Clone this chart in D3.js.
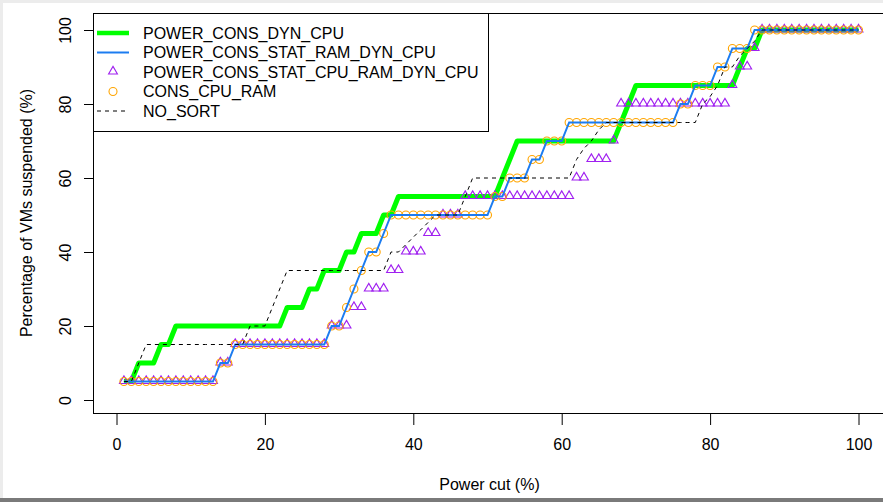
<!DOCTYPE html>
<html>
<head>
<meta charset="utf-8">
<script src="https://cdn.jsdelivr.net/npm/d3@7"></script>
<style>
  body { margin: 0; background: #fff; }
  svg { display: block; font-family: "Liberation Sans", Arial, Helvetica, sans-serif; }
</style>
</head>
<body>
<div id="chart"></div>
<script>
  // power cut (%) on the x axis, one point per percent
  var powerCut = d3.range(1, 101);

  var xTicks = [0, 20, 40, 60, 80, 100];
  var yTicks = [0, 20, 40, 60, 80, 100];

  // percentage of VMs suspended, one array per sorting policy
  var powerConsDynCpu = [
    5, 5, 10, 10, 10, 15, 15, 20, 20, 20,
    20, 20, 20, 20, 20, 20, 20, 20, 20, 20,
    20, 20, 25, 25, 25, 30, 30, 35, 35, 35,
    40, 40, 45, 45, 45, 50, 50, 55, 55, 55,
    55, 55, 55, 55, 55, 55, 55, 55, 55, 55,
    55, 60, 65, 70, 70, 70, 70, 70, 70, 70,
    70, 70, 70, 70, 70, 70, 70, 75, 80, 85,
    85, 85, 85, 85, 85, 85, 85, 85, 85, 85,
    85, 85, 85, 90, 95, 95, 100, 100, 100, 100,
    100, 100, 100, 100, 100, 100, 100, 100, 100, 100
  ];

  var powerConsStatRamDynCpu = [
    5, 5, 5, 5, 5, 5, 5, 5, 5, 5,
    5, 5, 5, 10, 10, 15, 15, 15, 15, 15,
    15, 15, 15, 15, 15, 15, 15, 15, 20, 20,
    25, 30, 35, 40, 40, 45, 50, 50, 50, 50,
    50, 50, 50, 50, 50, 50, 50, 50, 50, 50,
    55, 55, 60, 60, 60, 65, 65, 70, 70, 70,
    75, 75, 75, 75, 75, 75, 75, 75, 75, 75,
    75, 75, 75, 75, 75, 80, 80, 85, 85, 85,
    90, 90, 95, 95, 95, 100, 100, 100, 100, 100,
    100, 100, 100, 100, 100, 100, 100, 100, 100, 100
  ];

  var powerConsStatCpuRamDynCpu = [
    5, 5, 5, 5, 5, 5, 5, 5, 5, 5,
    5, 5, 5, 10, 10, 15, 15, 15, 15, 15,
    15, 15, 15, 15, 15, 15, 15, 15, 20, 20,
    20, 25, 25, 30, 30, 30, 35, 35, 40, 40,
    40, 45, 45, 50, 50, 50, 55, 55, 55, 55,
    55, 55, 55, 55, 55, 55, 55, 55, 55, 55,
    55, 60, 60, 65, 65, 65, 70, 80, 80, 80,
    80, 80, 80, 80, 80, 80, 80, 80, 80, 80,
    80, 80, 85, 90, 90, 95, 100, 100, 100, 100,
    100, 100, 100, 100, 100, 100, 100, 100, 100, 100
  ];

  var consCpuRam = [
    5, 5, 5, 5, 5, 5, 5, 5, 5, 5,
    5, 5, 5, 10, 10, 15, 15, 15, 15, 15,
    15, 15, 15, 15, 15, 15, 15, 15, 20, 20,
    25, 30, 35, 40, 40, 45, 50, 50, 50, 50,
    50, 50, 50, 50, 50, 50, 50, 50, 50, 50,
    55, 55, 60, 60, 60, 65, 65, 70, 70, 70,
    75, 75, 75, 75, 75, 75, 75, 75, 75, 75,
    75, 75, 75, 75, 75, 80, 80, 85, 85, 85,
    90, 90, 95, 95, 95, 100, 100, 100, 100, 100,
    100, 100, 100, 100, 100, 100, 100, 100, 100, 100
  ];

  var noSort = [
    5, 5, 10, 15, 15, 15, 15, 15, 15, 15,
    15, 15, 15, 15, 15, 15, 15, 20, 20, 20,
    25, 30, 35, 35, 35, 35, 35, 35, 35, 35,
    35, 35, 35, 35, 35, 35, 40, 40, 42, 44,
    46, 48, 50, 50, 50, 50, 55, 60, 60, 60,
    60, 60, 60, 60, 60, 60, 60, 60, 60, 60,
    60, 65, 68, 70, 73, 75, 75, 75, 75, 75,
    75, 75, 75, 75, 75, 75, 75, 75, 80, 82,
    85, 90, 90, 93, 95, 97, 100, 100, 100, 100,
    100, 100, 100, 100, 100, 100, 100, 100, 100, 100
  ];

  var legendLabels = ["POWER_CONS_DYN_CPU", "POWER_CONS_STAT_RAM_DYN_CPU",
    "POWER_CONS_STAT_CPU_RAM_DYN_CPU", "CONS_CPU_RAM", "NO_SORT"];

  var width = 883, height = 502;
  var box = {left: 93, top: 13, bottom: 413, right: 890};

  var svg = d3.select("#chart").append("svg")
    .attr("width", width)
    .attr("height", height);

  // window frame round the R device
  svg.append("rect").attr("x", 0).attr("y", 0).attr("width", width).attr("height", height).attr("fill", "#fff");
  svg.append("rect").attr("x", 0).attr("y", 0).attr("width", width).attr("height", 3).attr("fill", "#ececec");
  svg.append("rect").attr("x", 0).attr("y", 0).attr("width", 3).attr("height", height).attr("fill", "#ececec");
  svg.append("rect").attr("x", 0).attr("y", 498).attr("width", width).attr("height", 4).attr("fill", "#7a7a7a");

  var x = d3.scaleLinear().domain([0, 100]).range([116.5, 858.5]);
  var y = d3.scaleLinear().domain([0, 100]).range([400, 30]);

  // axes
  var xAxis = svg.append("g")
    .attr("transform", "translate(0," + box.bottom + ")")
    .call(d3.axisBottom(x).tickValues(xTicks).tickSizeInner(12).tickSizeOuter(0).tickPadding(14));
  xAxis.select(".domain").remove();
  xAxis.selectAll("line").attr("stroke", "#000");
  xAxis.selectAll("text").attr("font-size", 16).attr("font-family", null).attr("fill", "#000");

  var yAxis = svg.append("g")
    .attr("transform", "translate(" + box.left + ",0)")
    .call(d3.axisLeft(y).tickValues(yTicks).tickSizeInner(9).tickSizeOuter(0));
  yAxis.select(".domain").remove();
  yAxis.selectAll("line").attr("stroke", "#000");
  yAxis.selectAll("text")
    .attr("font-size", 16).attr("font-family", null).attr("fill", "#000")
    .attr("x", null).attr("dy", null)
    .attr("text-anchor", "middle")
    .attr("transform", "translate(-22,0) rotate(-90)");

  // axis titles
  svg.append("text")
    .attr("x", (box.left + box.right) / 2 - 2)
    .attr("y", 490)
    .attr("text-anchor", "middle")
    .attr("font-size", 16)
    .text("Power cut (%)");

  svg.append("text")
    .attr("transform", "translate(32," + (box.top + box.bottom) / 2 + ") rotate(-90)")
    .attr("text-anchor", "middle")
    .attr("font-size", 16)
    .text("Percentage of VMs suspended (%)");

  var plot = svg.append("g");

  var line = function(values) {
    return d3.line()
      .x(function(d, i) { return x(powerCut[i]); })
      .y(function(d) { return y(d); })(values);
  };

  plot.append("path")
    .attr("d", line(powerConsDynCpu))
    .attr("fill", "none").attr("stroke", "#00ff00").attr("stroke-width", 5)
    .attr("stroke-linejoin", "round");

  var triangle = d3.symbol().type(d3.symbolTriangle).size(34);
  plot.selectAll(".tri").data(powerConsStatCpuRamDynCpu).enter().append("path")
    .attr("class", "tri")
    .attr("d", triangle)
    .attr("transform", function(d, i) { return "translate(" + x(powerCut[i]) + "," + (y(d) - 0.5) + ")"; })
    .attr("fill", "none").attr("stroke", "#a020f0").attr("stroke-width", 1.1);

  plot.selectAll(".circ").data(consCpuRam).enter().append("circle")
    .attr("class", "circ")
    .attr("cx", function(d, i) { return x(powerCut[i]); })
    .attr("cy", function(d) { return y(d); })
    .attr("r", 4)
    .attr("fill", "none").attr("stroke", "#ffa500").attr("stroke-width", 1.1);

  plot.append("path")
    .attr("d", line(powerConsStatRamDynCpu))
    .attr("fill", "none").attr("stroke", "#1c7cf0").attr("stroke-width", 2);

  plot.append("path")
    .attr("d", line(noSort))
    .attr("fill", "none").attr("stroke", "#000").attr("stroke-width", 1)
    .attr("stroke-dasharray", "4,4");

  // plot box
  svg.append("rect")
    .attr("x", box.left + 0.5).attr("y", box.top + 0.5)
    .attr("width", box.right - box.left).attr("height", box.bottom - box.top)
    .attr("fill", "none").attr("stroke", "#000").attr("stroke-width", 1);

  // legend
  var legend = svg.append("g");
  legend.append("rect")
    .attr("x", box.left + 0.5).attr("y", box.top + 0.5)
    .attr("width", 395).attr("height", 118)
    .attr("fill", "#fff").attr("stroke", "#000").attr("stroke-width", 1);

  var rowY = [33, 52.5, 72, 91.5, 111];
  legend.selectAll(".lab").data(legendLabels).enter().append("text")
    .attr("x", 143)
    .attr("y", function(d, i) { return rowY[i] + 5.5; })
    .attr("font-size", 16)
    .text(function(d) { return d; });

  legend.append("line").attr("x1", 97).attr("x2", 129).attr("y1", rowY[0]).attr("y2", rowY[0])
    .attr("stroke", "#00ff00").attr("stroke-width", 4.5);
  legend.append("line").attr("x1", 97).attr("x2", 129).attr("y1", rowY[1]).attr("y2", rowY[1])
    .attr("stroke", "#1c7cf0").attr("stroke-width", 2);
  legend.append("path").attr("d", triangle)
    .attr("transform", "translate(113," + (rowY[2] - 0.5) + ")")
    .attr("fill", "none").attr("stroke", "#a020f0").attr("stroke-width", 1.1);
  legend.append("circle").attr("cx", 113).attr("cy", rowY[3]).attr("r", 4)
    .attr("fill", "none").attr("stroke", "#ffa500").attr("stroke-width", 1.1);
  legend.append("line").attr("x1", 97).attr("x2", 129).attr("y1", rowY[4]).attr("y2", rowY[4])
    .attr("stroke", "#000").attr("stroke-width", 1).attr("stroke-dasharray", "4,4");
</script>
</body>
</html>
